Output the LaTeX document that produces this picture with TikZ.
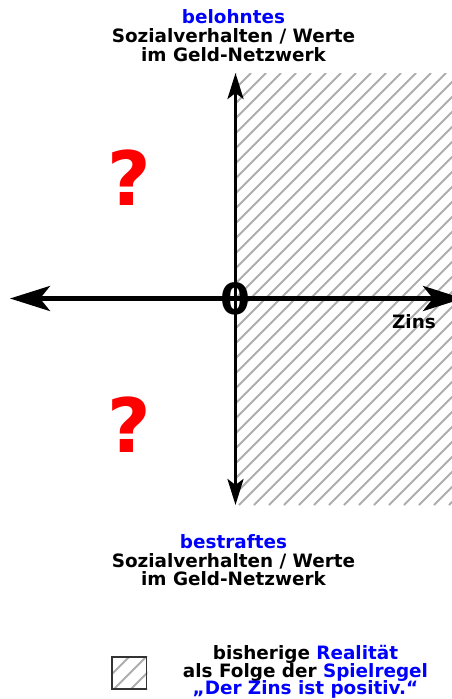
\documentclass[tikz,border=0pt]{standalone}
\usepackage{fontspec}
\setmainfont{DejaVu Sans}
\usetikzlibrary{arrows.meta}
\definecolor{hatchgray}{gray}{0.68}
\definecolor{keyframe}{gray}{0.20}
\tikzset{
  lbl/.style={font=\fontsize{18.4}{18}\selectfont\bfseries, inner sep=0pt, anchor=base},
  qmark/.style={font=\fontsize{75}{75}\selectfont\bfseries, text=red, inner sep=0pt, anchor=base},
  zero/.style={font=\fontsize{43}{43}\selectfont\bfseries, inner sep=0pt},
  hatch/.style={draw=hatchgray, line width=1.8pt},
  haxis/.style={line width=4.5pt, {Stealth[length=40pt,width=25pt,inset=10pt]}-{Stealth[length=40pt,width=25pt,inset=10pt]}},
  vaxis/.style={line width=3.5pt, {Stealth[length=26pt,width=16pt,inset=6pt]}-{Stealth[length=26pt,width=16pt,inset=6pt]}},
  keybox/.style={draw=keyframe, line width=1.5pt, minimum width=34.5pt, minimum height=32pt, inner sep=0pt}
}
\begin{document}
\begin{tikzpicture}[x=1pt,y=-1pt]
\useasboundingbox (0,0) rectangle (452,699);
% hatched region
\begin{scope}
  \clip (236,73) rectangle (452,505);
  \foreach \k in {20,...,64}
    \draw[hatch] ({15*\k+9-505},505) -- ({15*\k+9-73},73);
\end{scope}
% axes
\coordinate (W) at (10,298.5);
\coordinate (E) at (463,298.5);
\coordinate (N) at (235.5,73);
\coordinate (S) at (235.5,505);
\draw[vaxis] (N) -- (S);
\draw[haxis] (W) -- (E);
\node[zero] (zero) at (235.5,298.5) {0};
\node[lbl] (zins) at (414,328) {Zins};
% question marks
\node[qmark] (q1) at (129.5,205) {?};
\node[qmark] (q2) at (129.5,452) {?};
% top label
\node[lbl, text=blue] (t1) at (233.5,23) {belohntes};
\node[lbl] (t2) at (233.5,42.5) {Sozialverhalten / Werte};
\node[lbl] (t3) at (233.5,61) {im Geld-Netzwerk};
% bottom label
\node[lbl, text=blue] (b1) at (233.5,548) {bestraftes};
\node[lbl] (b2) at (233.5,567) {Sozialverhalten / Werte};
\node[lbl] (b3) at (233.5,585.5) {im Geld-Netzwerk};
% legend
\node[keybox] (key) at (129.25,673) {};
\begin{scope}
  \clip (key.north west) rectangle (key.south east);
  \foreach \c in {769,786,803,820,837}
    \draw[hatch] ({\c-700},700) -- ({\c-640},640);
\end{scope}
\node[keybox, fill=none] at (key.center) {};
\node[lbl] (l1) at (305.5,659) {bisherige \textcolor{blue}{Realität}};
\node[lbl] (l2) at (305.5,677) {als Folge der \textcolor{blue}{Spielregel}};
\node[lbl, text=blue] (l3) at (305.5,694.5) {„Der Zins ist positiv.“};
\end{tikzpicture}
\end{document}
